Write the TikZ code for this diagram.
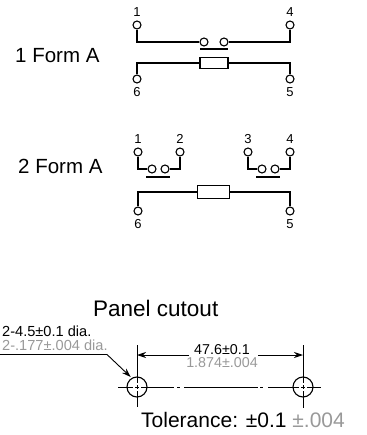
\documentclass[tikz,border=0pt]{standalone}
\usepackage{fontspec}
\setmainfont{Liberation Sans}
\usepackage{amsmath}
\usetikzlibrary{arrows.meta, positioning}
\definecolor{inchgray}{gray}{0.6}
\tikzset{
    % terminals and contacts are the same small ring
    terminal/.style = {circle, draw, line width=1.1pt, fill=white, minimum size=8pt, inner sep=0pt},
    coil/.style = {rectangle, draw, line width=1.1pt, fill=white, inner sep=0pt},
    wire/.style = {line width=1.1pt},
    pinlabel/.style = {font=\fontsize{13}{13}\selectfont, inner sep=0pt, node distance=4pt},
    formlabel/.style = {font=\fontsize{20.5}{22}\selectfont, inner sep=0pt},
    titlelabel/.style = {font=\fontsize{22.5}{24}\selectfont, inner sep=0pt},
    dimlabel/.style = {font=\fontsize{14.3}{15}\selectfont, inner sep=0pt},
    inchlabel/.style = {dimlabel, text=inchgray},
    hole/.style = {circle, draw, line width=1.1pt, minimum size=20pt, inner sep=0pt},
    dimline/.style = {line width=0.9pt},
    extline/.style = {dimline, dash pattern=on 38pt off 2pt on 4pt off 2pt on 30pt},
    arrow/.style = {line width=0.9pt,-{Stealth[length=9pt,width=6pt]}}
}
\begin{document}
\begin{tikzpicture}[x=1pt, y=-1pt]
\useasboundingbox (0,0) rectangle (366,435);

% 1 Form A
\node[formlabel, anchor=base west] (form_a) at (15,63) {1 Form A};
\node[terminal] (a_one) at (137,25) {};
\node[terminal] (a_four) at (290,25) {};
\node[terminal] (a_six) at (137,79) {};
\node[terminal] (a_five) at (290,79) {};
\node[terminal] (a_left) at (204,42) {};
\node[terminal] (a_right) at (224,42) {};
\node[coil, minimum width=28pt, minimum height=11pt] (a_coil) at (214,63) {};
\node[pinlabel, above=of a_one] (a_one_txt) {1};
\node[pinlabel, above=of a_four] (a_four_txt) {4};
\node[pinlabel, below=of a_six] (a_six_txt) {6};
\node[pinlabel, below=of a_five] (a_five_txt) {5};
\coordinate (a_bar_l) at (200,49);
\coordinate (a_bar_r) at (228,49);

\draw[wire] (a_one) |- (a_left);
\draw[wire] (a_four) |- (a_right);
\draw[wire] (a_six) |- (a_coil);
\draw[wire] (a_five) |- (a_coil);
\draw[wire] (a_bar_l) -- (a_bar_r);

% 2 Form A
\node[formlabel, anchor=base west] (form_b) at (18,174) {2 Form A};
\node[terminal] (b_one) at (138,152) {};
\node[terminal] (b_two) at (180,152) {};
\node[terminal] (b_three) at (248,152) {};
\node[terminal] (b_four) at (290,152) {};
\node[terminal] (b_six) at (138,211) {};
\node[terminal] (b_five) at (290,211) {};
\node[terminal] (b_left_a) at (152,169) {};
\node[terminal] (b_left_b) at (165,169) {};
\node[terminal] (b_right_a) at (262,169) {};
\node[terminal] (b_right_b) at (275,169) {};
\node[coil, minimum width=32pt, minimum height=13pt] (b_coil) at (213.5,192) {};
\node[pinlabel, above=of b_one] (b_one_txt) {1};
\node[pinlabel, above=of b_two] (b_two_txt) {2};
\node[pinlabel, above=of b_three] (b_three_txt) {3};
\node[pinlabel, above=of b_four] (b_four_txt) {4};
\node[pinlabel, below=of b_six] (b_six_txt) {6};
\node[pinlabel, below=of b_five] (b_five_txt) {5};
\coordinate (b_bar_a) at (146,177);
\coordinate (b_bar_b) at (170,177);
\coordinate (b_bar_c) at (256,177);
\coordinate (b_bar_d) at (280,177);

\draw[wire] (b_one) |- (b_left_a);
\draw[wire] (b_two) |- (b_left_b);
\draw[wire] (b_three) |- (b_right_a);
\draw[wire] (b_four) |- (b_right_b);
\draw[wire] (b_six) |- (b_coil);
\draw[wire] (b_five) |- (b_coil);
\draw[wire] (b_bar_a) -- (b_bar_b);
\draw[wire] (b_bar_c) -- (b_bar_d);

% Panel cutout
\node[titlelabel, anchor=base west] (cutout_txt) at (93,316) {Panel cutout};
\node[hole] (hole_l) at (137,387) {};
\node[hole] (hole_r) at (303,387) {};
\coordinate (ext_l_top) at (137,345);
\coordinate (ext_l_bot) at (137,407);
\coordinate (ext_r_top) at (303,345);
\coordinate (ext_r_bot) at (303,408);
\coordinate (axis_l) at (118,387);
\coordinate (axis_r) at (321,387);
\coordinate (leader_start) at (0,354.5);
\coordinate (leader_knee) at (107,354.5);
\coordinate (leader_tip) at (130.7,377);

\draw[extline] (ext_l_top) -- (ext_l_bot);
\draw[extline] (ext_r_top) -- (ext_r_bot);
\draw[dimline, dash pattern=on 15pt off 2pt on 4pt off 2pt on 33pt off 3pt on 3pt off 4pt on 74pt off 2pt on 3pt off 5pt on 31pt off 2pt on 4pt off 2pt on 14pt] (axis_l) -- (axis_r);

\node[dimlabel, anchor=base] (dim_mm) at (222,354) {47.6±0.1};
\node[inchlabel, anchor=base] (dim_in) at (222,367) {1.874±.004};
\coordinate (dim_left) at (189,355);
\coordinate (dim_right) at (258,355);
\draw[arrow] (dim_left) -- (ext_l_top |- dim_left);
\draw[arrow] (dim_right) -- (ext_r_top |- dim_right);

\node[dimlabel, font=\fontsize{14.6}{15}\selectfont, anchor=base west] (dia_mm) at (2,336.5) {2-4.5±0.1 dia.};
\node[inchlabel, font=\fontsize{14.6}{15}\selectfont, anchor=base west] (dia_in) at (2,350.5) {2-.177±.004 dia.};
\draw[dimline] (leader_start) -- (leader_knee);
\draw[arrow] (leader_knee) -- (leader_tip);

\node[formlabel, font=\fontsize{21}{22}\selectfont, anchor=base west] (tol_txt) at (141,427) {Tolerance: ±0.1 \textcolor{inchgray}{±.004}};
\end{tikzpicture}
\end{document}
